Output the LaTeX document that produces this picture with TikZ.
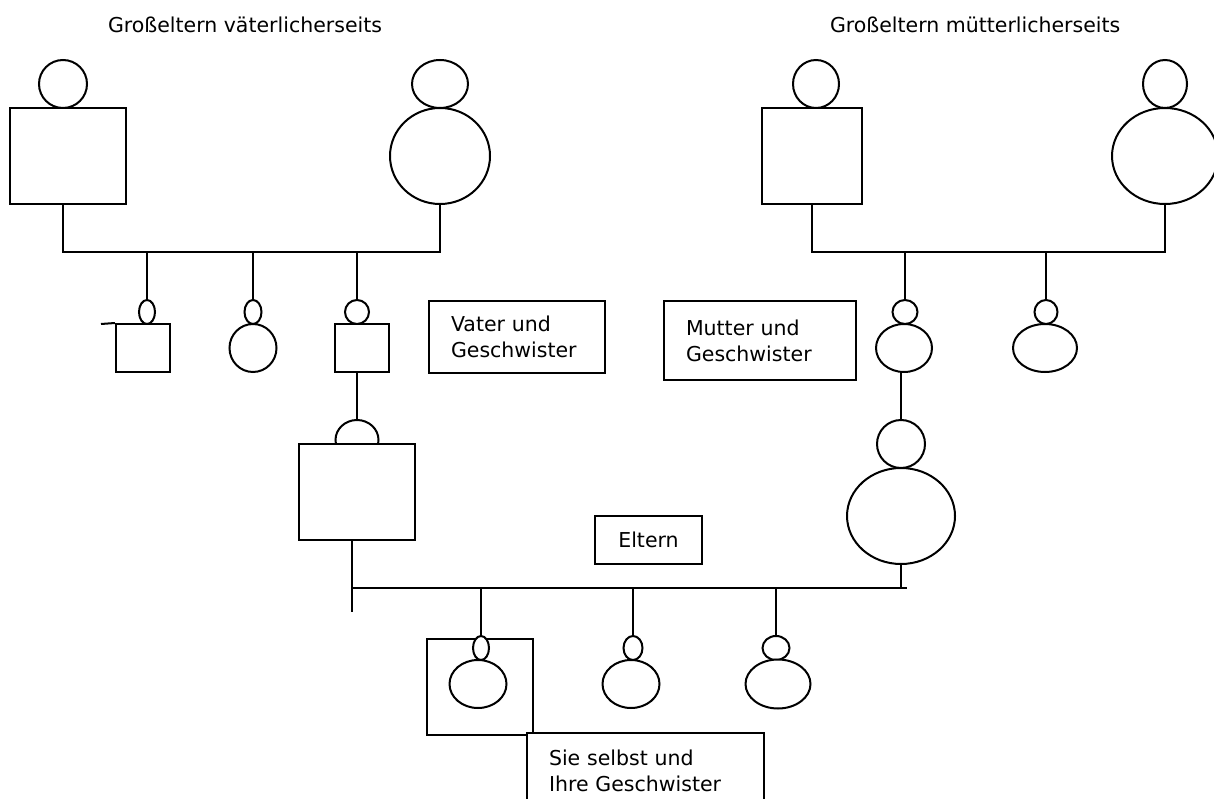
\documentclass[tikz,border=0pt]{standalone}
\usepackage{fontspec}
\setmainfont{DejaVu Sans}
\usetikzlibrary{shapes.geometric}
\tikzset{
	kopf/.style={draw, ellipse, inner sep=0pt, fill=white},
	rumpf/.style={draw, ellipse, inner sep=0pt, fill=white},
	rumpfbox/.style={draw, rectangle, inner sep=0pt, fill=white},
	textbox/.style={draw, fill=white, anchor=north west, align=left, inner xsep=22pt, inner ysep=0pt, font=\fontsize{20.5}{26}\selectfont},
	titel/.style={anchor=base west, inner sep=0pt, font=\fontsize{20.5}{26}\selectfont}
}

\begin{document}
\begin{tikzpicture}[x=1pt, y=-1pt, line width=2pt]
			%%%%% START %%%%%
			
			\path[use as bounding box, fill=white] (0,0) rectangle (1214,799);
			\clip (0,0) rectangle (1214,799);
			
			\node[titel] (titelV) at (107,33) {Großeltern väterlicherseits};
			\node[titel] (titelM) at (829,33) {Großeltern mütterlicherseits};
			
			%%%%% Großeltern väterlicherseits
			\node[kopf, minimum width=48pt, minimum height=48pt] (grossvaterV) at (63,84) {};
			\node[rumpfbox, minimum width=116pt, minimum height=96pt] (grossvaterVrumpf) at (68,156) {};
			\node[kopf, minimum width=56pt, minimum height=48pt] (grossmutterV) at (440,84) {};
			\node[rumpf, minimum width=100pt, minimum height=96pt] (grossmutterVrumpf) at (440,156) {};
			
			\coordinate (barV) at (253,252);
			\draw (grossvaterV |- grossvaterVrumpf.south) |- (barV) -| (grossmutterVrumpf.south);
			
			\node[kopf, minimum width=16pt, minimum height=24pt] (onkelV) at (147,312) {};
			\node[rumpfbox, minimum width=54pt, minimum height=48pt] (onkelVrumpf) at (143,348) {};
			\coordinate (stubV) at (101,324);
			\draw (stubV) -- (onkelVrumpf.north west);
			
			\node[kopf, minimum width=17pt, minimum height=24pt] (tanteV) at (253,312) {};
			\node[rumpf, minimum width=47pt, minimum height=48pt] (tanteVrumpf) at (253,348) {};
			
			\node[kopf, minimum width=24pt, minimum height=24pt] (vaterK) at (357,312) {};
			\node[rumpfbox, minimum width=54pt, minimum height=48pt] (vaterKrumpf) at (362,348) {};
			
			\foreach \k in {onkelV, tanteV, vaterK}
				\draw (barV -| \k.north) -- (\k.north);
			
			\node[textbox, text width=132pt, minimum height=72pt] (vaterText) at (428,300) {Vater und\\Geschwister};
			
			%%%%% Großeltern mütterlicherseits
			\node[kopf, minimum width=46pt, minimum height=48pt] (grossvaterM) at (816,84) {};
			\node[rumpfbox, minimum width=100pt, minimum height=96pt] (grossvaterMrumpf) at (812,156) {};
			\node[kopf, minimum width=44pt, minimum height=48pt] (grossmutterM) at (1165,84) {};
			\node[rumpf, minimum width=106pt, minimum height=96pt] (grossmutterMrumpf) at (1165,156) {};
			
			\coordinate (barM) at (980,252);
			\draw (grossvaterMrumpf.south) |- (barM) -| (grossmutterMrumpf.south);
			
			\node[kopf, minimum width=25pt, minimum height=24pt] (mutterK) at (905,312) {};
			\node[rumpf, minimum width=56pt, minimum height=48pt] (mutterKrumpf) at (904,348) {};
			\node[kopf, minimum width=23pt, minimum height=24pt] (tanteM) at (1046,312) {};
			\node[rumpf, minimum width=64pt, minimum height=48pt] (tanteMrumpf) at (1045,348) {};
			
			\foreach \k in {mutterK, tanteM}
				\draw (barM -| \k.north) -- (\k.north);
			
			\node[textbox, text width=148pt, minimum height=79pt] (mutterText) at (663,300) {Mutter und\\Geschwister};
			
			%%%%% Eltern
			\node[kopf, minimum width=43pt, minimum height=40pt] (vater) at (357,440) {};
			\node[rumpfbox, minimum width=116pt, minimum height=96pt] (vaterrumpf) at (357,492) {};
			\draw (vaterKrumpf.south -| vater.north) -- (vater.north);
			
			\node[kopf, minimum width=48pt, minimum height=48pt] (mutter) at (901,444) {};
			\node[rumpf, minimum width=108pt, minimum height=96pt] (mutterrumpf) at (901,516) {};
			\draw (mutterKrumpf.south -| mutter.north) -- (mutter.north);
			
			\node[draw, minimum width=107pt, minimum height=48pt, font=\fontsize{20.5}{26}\selectfont] (eltern) at (648.5,540) {Eltern};
			
			\coordinate (postV) at (352,612);
			\coordinate (barK) at (907,588);
			\draw (vaterrumpf.south -| postV) -- (postV);
			\draw (postV |- barK) -- (barK);
			\draw (mutterrumpf.south) -- (mutterrumpf.south |- barK);
			
			%%%%% Sie selbst und Geschwister
			\node[draw, minimum width=106pt, minimum height=96pt] (selbstRahmen) at (480,687) {};
			
			\node[kopf, minimum width=16pt, minimum height=24pt] (selbst) at (481,648) {};
			\node[rumpf, minimum width=57pt, minimum height=48pt] (selbstrumpf) at (478,684) {};
			\node[kopf, minimum width=19pt, minimum height=24pt] (schwester) at (633,648) {};
			\node[rumpf, minimum width=57pt, minimum height=48pt] (schwesterrumpf) at (631,684) {};
			\node[kopf, minimum width=27pt, minimum height=24pt] (bruder) at (776,648) {};
			\node[rumpf, minimum width=65pt, minimum height=49pt] (bruderrumpf) at (778,684) {};
			
			\foreach \k in {selbst, schwester, bruder}
				\draw (barK -| \k.north) -- (\k.north);
			
			\node[textbox, text width=193pt, minimum height=76pt] (selbstText) at (526,732) {Sie selbst und\\Ihre Geschwister};
			
			%%%%% END %%%%%
\end{tikzpicture}
\end{document}
